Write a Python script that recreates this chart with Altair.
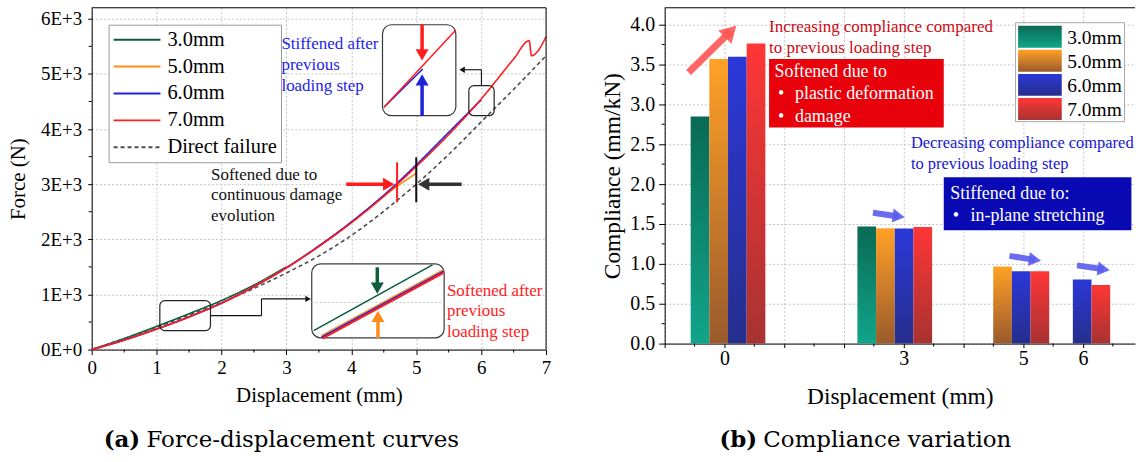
import altair as alt
import pandas as pd

SERIF = "Liberation Serif"
CAP_FONT = "DejaVu Serif"

W_A, H_A = 456, 343
W_B, H_B = 472, 337

# ------------------------------------------------------------------
# (a) Force-displacement curves : values
# ------------------------------------------------------------------
series_a = ["3.0mm", "5.0mm", "6.0mm", "7.0mm", "Direct failure"]
colors_a = ["#0d5c3c", "#ff8c1a", "#1f22dd", "#ff1c1c", "#4d4d4d"]
dash_a = [[1, 0], [1, 0], [1, 0], [1, 0], [4, 3]]

disp_30 = [0, 0.5, 1, 1.5, 2, 2.5, 3]
force_30 = [0, 200, 420, 650, 890, 1170, 1500]
disp_50 = [0, 0.5, 1, 1.5, 2, 2.5, 3, 3.5, 4, 4.5, 5]
force_50 = [0, 175, 375, 597, 846, 1147, 1488, 1878, 2308, 2785, 3200]
disp_60 = [0, 0.5, 1, 1.5, 2, 2.5, 3, 3.5, 4, 4.5, 5, 5.5, 6]
force_60 = [0, 172, 372, 593, 843, 1144, 1485, 1880, 2315, 2800, 3350, 3940, 4530]
disp_70 = [0, 0.5, 1, 1.5, 2, 2.5, 3, 3.5, 4, 4.5, 5, 5.5, 6, 6.5, 6.74, 6.775, 7]
force_70 = [0, 170, 370, 590, 840, 1140, 1480, 1870, 2300, 2780, 3320, 3900, 4544,
            5270, 5602, 5330, 5675]
disp_dir = [0, 0.5, 1, 1.5, 2, 2.5, 3, 3.5, 4, 4.5, 5, 5.5, 6, 6.5, 7]
force_dir = [0, 195, 405, 625, 855, 1110, 1390, 1700, 2070, 2510, 3000, 3540, 4130,
             4720, 5330]

x_ticks_a = [0, 1, 2, 3, 4, 5, 6, 7]
y_ticks_a = [0, 1000, 2000, 3000, 4000, 5000, 6000]
x_minor_a = [0.5, 1.5, 2.5, 3.5, 4.5, 5.5, 6.5]
y_minor_a = [500, 1500, 2500, 3500, 4500, 5500]

# annotation texts (a)
txt_a_x = [2.923, 2.923, 2.923, 1.838, 1.838, 1.838, 5.473, 5.473, 5.473]
txt_a_y = [5542, 5162, 4786, 3173, 2805, 2429, 1070, 694, 326]
txt_a_t = ["Stiffened after", "previous", "loading step",
           "Softened due to", "continuous damage", "evolution",
           "Softened after", "previous", "loading step"]
txt_a_c = ["#2424e6"] * 3 + ["#111111"] * 3 + ["#ff1c1c"] * 3

# zoom insets and the marked regions (a)
inset_x0 = [4.48, 3.39]
inset_x1 = [5.61, 5.43]
inset_y0 = [4242, 212]
inset_y1 = [5892, 1554]
mark_x0 = [1.05, 5.81]
mark_x1 = [1.83, 6.20]
mark_y0 = [344, 4242]
mark_y1 = [888, 4786]

# line segments (a): inset contents, arrow shafts, connectors
seg_x0 = [4.51, 4.50, 5.09, 5.09, 3.42, 3.54, 3.54, 3.55, 4.40, 4.41,
          3.92, 4.705, 5.0, 5.70,
          6.004, 6.004, 1.83, 2.616, 2.616]
seg_y0 = [4406, 4393, 5892, 4242, 344, 253, 223, 198, 1492, 212,
          3000, 2671, 2671, 3000,
          4786, 5076, 616, 616, 919]
seg_x1 = [5.10, 5.61, 5.09, 5.09, 5.25, 5.42, 5.42, 5.42, 4.40, 4.41,
          4.575, 4.705, 5.0, 5.115,
          6.004, 5.70, 2.616, 2.616, 3.34]
seg_y1 = [5089, 5796, 5345, 4891, 1536, 1450, 1420, 1395, 1115, 602,
          3000, 3396, 3486, 3000,
          5076, 5076, 616, 919, 919]
seg_c = ["#1f22dd", "#ff1c1c", "#ff1c1c", "#1f22dd", "#0d5c3c", "#ff8c1a",
         "#1f22dd", "#ff1c1c", "#0d5c3c", "#ff8c1a",
         "#ff1c1c", "#ff1c1c", "#111111", "#333333",
         "#111111", "#111111", "#111111", "#111111", "#111111"]
seg_w = [1.5, 1.5, 3.5, 3.5, 1.6, 1.6, 1.6, 2.2, 3.5, 3.5,
         3.5, 2, 2, 3.5,
         1.1, 1.1, 1.1, 1.1, 1.1]

# arrow heads (a)
head_a_x = [5.09, 5.09, 4.40, 4.41, 4.575, 5.115, 5.706, 3.334]
head_a_y = [5345, 4891, 1115, 602, 3000, 3000, 5076, 919]
head_a_s = ["triangle-down", "triangle-up", "triangle-down", "triangle-up",
            "triangle-right", "triangle-left", "triangle-left", "triangle-right"]
head_a_z = [170, 170, 170, 170, 170, 170, 40, 40]
head_a_c = ["#ff1c1c", "#1f22dd", "#0d5c3c", "#ff8c1a", "#ff1c1c", "#333333",
            "#111111", "#111111"]

# ------------------------------------------------------------------
# (b) Compliance variation
# ------------------------------------------------------------------
series_b = ["3.0mm", "5.0mm", "6.0mm", "7.0mm"]
grad_top = ["#0a6a54", "#ffa126", "#2b37d8", "#ff3636"]
grad_bottom = ["#10a58b", "#9a5a2c", "#262f8c", "#a83232"]
disp_b = [0, 3, 5, 6]
group_center_b = [0.06, 2.85, 4.81, 5.83]
comp_30 = [2.846, 1.467, None, None]
comp_50 = [3.567, 1.446, 0.967, None]
comp_60 = [3.596, 1.442, 0.908, 0.804]
comp_70 = [3.763, 1.462, 0.908, 0.733]
BAR_W = 0.3125

x_ticks_b = [-1, 0, 1, 2, 3, 4, 5, 6]
y_ticks_b = [0, 0.5, 1.0, 1.5, 2.0, 2.5, 3.0, 3.5, 4.0]
x_minor_b = [-0.5, 0.5, 1.5, 2.5, 3.5, 4.5, 5.5, 6.5]
y_minor_b = [0.25, 0.75, 1.25, 1.75, 2.25, 2.75, 3.25, 3.75]

# boxes (b)
box_b_x0 = [0.747, 3.67]
box_b_x1 = [3.67, 6.81]
box_b_y0 = [2.709, 1.421]
box_b_y1 = [3.5675, 2.084]
box_b_c = ["#e8000a", "#0a0ab4"]

# texts (b)
txt_b_x = [0.747, 0.747, 0.838, 0.897, 1.18, 0.897, 1.18,
           3.12, 3.12, 3.78, 3.82, 4.117]
txt_b_y = [3.97, 3.71, 3.41, 3.125, 3.125, 2.846, 2.846,
           2.5125, 2.255, 1.88, 1.596, 1.596]
txt_b_t = ["Increasing compliance compared", "to previous loading step",
           "Softened due to", "\u2022", "plastic deformation", "\u2022", "damage",
           "Decreasing compliance compared", "to previous loading step",
           "Stiffened due to:", "\u2022", "in-plane stretching"]
txt_b_c = ["#cc0a14", "#cc0a14", "white", "white", "white", "white", "white",
           "#1818d0", "#1818d0", "white", "white", "white"]
txt_b_fs = [17, 17, 18, 18, 18, 18, 18, 16.5, 16.5, 18, 18, 18]

# arrows (b)
shaft_b_x0 = [-0.6, 2.485, 4.77, 5.9]
shaft_b_y0 = [3.4, 1.64, 1.10, 0.98]
shaft_b_x1 = [0.103, 2.916, 5.196, 6.346]
shaft_b_y1 = [3.9145, 1.594, 1.049, 0.931]
shaft_b_c = ["#ff5454", "#5b5bf0", "#5b5bf0", "#5b5bf0"]
shaft_b_w = [7, 6, 6, 6]
head_b_s = ["triangle-up", "triangle-right", "triangle-right", "triangle-right"]
head_b_a = [45, 8, 8, 8]
head_b_z = [350, 200, 200, 200]

# ------------------------------------------------------------------
# helpers
# ------------------------------------------------------------------
def grad(top, bottom):
    return alt.Gradient(gradient="linear",
                        stops=[alt.GradientStop(color=top, offset=0),
                               alt.GradientStop(color=bottom, offset=1)],
                        x1=0, x2=0, y1=0, y2=1)


grid_kw = dict(grid=True, gridColor="#c4c4c4", gridDash=[2, 2], gridWidth=1)
common_ax = dict(labelFont=SERIF, labelColor="black", titleFont=SERIF,
                 titleFontWeight="normal", titleColor="black", tickColor="black",
                 domainColor="black", labelFlush=False, labelOverlap=False)

xs_a = alt.Scale(domain=[0, 7], nice=False, zero=False)
ys_a = alt.Scale(domain=[0, 6200], nice=False)
ax_x_a = alt.Axis(values=x_ticks_a, format="d", title="Displacement (mm)",
                  labelFontSize=19, labelPadding=4, titleFontSize=21, titlePadding=7,
                  tickSize=5, **grid_kw, **common_ax)
ax_y_a = alt.Axis(values=y_ticks_a, title="Force (N)",
                  labelExpr="datum.value == 0 ? '0E+0' : format(datum.value / 1000, 'd') + 'E+3'",
                  labelFontSize=19, labelPadding=6, titleFontSize=21, titlePadding=12,
                  tickSize=4, **grid_kw, **common_ax)


def XA(f):
    return alt.X(f, type="quantitative", scale=xs_a, axis=ax_x_a)


def YA(f):
    return alt.Y(f, type="quantitative", scale=ys_a, axis=ax_y_a)


one = pd.DataFrame({"k": [0]})

# ---------------- panel (a) ----------------
rows = []
for name, xs, ys in [("Direct failure", disp_dir, force_dir), ("3.0mm", disp_30, force_30),
                     ("5.0mm", disp_50, force_50), ("6.0mm", disp_60, force_60),
                     ("7.0mm", disp_70, force_70)]:
    for k, (d, f) in enumerate(zip(xs, ys)):
        rows.append({"series": name, "d": d, "f": f, "k": k})
lines_df = pd.DataFrame(rows)

leg_a = alt.Legend(title=None, orient="none", legendX=17, legendY=17,
                   symbolType="M-1,0H3.7", symbolSize=400, symbolStrokeWidth=2,
                   labelFont=SERIF, labelFontSize=20.5, labelColor="black",
                   labelOffset=33, rowPadding=5, padding=4, strokeColor="#9a9a9a",
                   fillColor="white", labelLimit=400)

lines = alt.Chart(lines_df).mark_line(strokeWidth=1.6, interpolate="monotone").encode(
    x=XA("d"), y=YA("f"),
    color=alt.Color("series:N", scale=alt.Scale(domain=series_a, range=colors_a), legend=leg_a),
    strokeDash=alt.StrokeDash("series:N", scale=alt.Scale(domain=series_a, range=dash_a),
                              legend=leg_a),
    order=alt.Order("k:Q"),
)

minor_x_a = alt.Chart(pd.DataFrame({"v": x_minor_a})).mark_rule(color="black").encode(
    x=XA("v"), y=alt.value(H_A), y2=alt.value(H_A + 3))
minor_y_a = alt.Chart(pd.DataFrame({"v": y_minor_a})).mark_rule(color="black").encode(
    y=YA("v"), x=alt.value(0), x2=alt.value(-3))
border_top_a = alt.Chart(one).mark_rule(color="black").encode(
    x=alt.value(0), x2=alt.value(W_A), y=alt.value(0))
border_right_a = alt.Chart(one).mark_rule(color="black").encode(
    x=alt.value(W_A), y=alt.value(0), y2=alt.value(H_A))

insets_a = alt.Chart(pd.DataFrame({"x0": inset_x0, "x1": inset_x1, "y0": inset_y0, "y1": inset_y1})
                     ).mark_rect(cornerRadius=9, fill="white", stroke="#3a3a3a", strokeWidth=1.2
                                 ).encode(x=XA("x0"), x2="x1", y=YA("y0"), y2="y1")
inner_grid_a = alt.Chart(one).mark_rule(color="#c4c4c4", strokeDash=[2, 2]).encode(
    x=alt.XDatum(3.39, scale=xs_a), x2=alt.X2Datum(5.43), y=alt.YDatum(852, scale=ys_a))
marks_a = alt.Chart(pd.DataFrame({"x0": mark_x0, "x1": mark_x1, "y0": mark_y0, "y1": mark_y1})
                    ).mark_rect(cornerRadius=5, fill="transparent", stroke="#222222", strokeWidth=1.2
                                ).encode(x=XA("x0"), x2="x1", y=YA("y0"), y2="y1")

segs_a = alt.Chart(pd.DataFrame({"x0": seg_x0, "y0": seg_y0, "x1": seg_x1, "y1": seg_y1,
                                 "c": seg_c, "w": seg_w})).mark_rule(strokeCap="butt").encode(
    x=XA("x0"), y=YA("y0"), x2="x1", y2="y1",
    stroke=alt.Stroke("c:N", scale=None), strokeWidth=alt.StrokeWidth("w:Q", scale=None))

heads_a = alt.Chart(pd.DataFrame({"x": head_a_x, "y": head_a_y, "s": head_a_s, "z": head_a_z,
                                  "c": head_a_c})).mark_point(filled=True, opacity=1, strokeWidth=0).encode(
    x=XA("x"), y=YA("y"), shape=alt.Shape("s:N", scale=None), size=alt.Size("z:Q", scale=None),
    fill=alt.Fill("c:N", scale=None))

texts_a = alt.Chart(pd.DataFrame({"x": txt_a_x, "y": txt_a_y, "t": txt_a_t, "c": txt_a_c})
                    ).mark_text(align="left", baseline="middle", font=SERIF, fontSize=17).encode(
    x=XA("x"), y=YA("y"), text="t:N", fill=alt.Fill("c:N", scale=None))

cap_a1 = alt.Chart(one).mark_text(text="(a)", font=CAP_FONT, fontSize=23, fontWeight="bold",
                                  align="left", baseline="middle", color="black").encode(
    x=alt.value(12), y=alt.value(434))
cap_a2 = alt.Chart(one).mark_text(text="Force-displacement curves", font=CAP_FONT, fontSize=23,
                                  align="left", baseline="middle", color="black").encode(
    x=alt.value(55), y=alt.value(434))

panel_a = alt.layer(
    lines, minor_x_a, minor_y_a, border_top_a, border_right_a, insets_a, inner_grid_a,
    marks_a, segs_a, heads_a, texts_a, cap_a1, cap_a2
).properties(width=W_A, height=H_A)

# ---------------- panel (b) ----------------
xs_b = alt.Scale(domain=[-1, 6.87], nice=False, zero=False)
ys_b = alt.Scale(domain=[0, 4.21], nice=False)
ax_x_b = alt.Axis(values=x_ticks_b, format="d",
                  labelExpr="indexof([0, 3, 5, 6], datum.value) >= 0 ? datum.label : ''",
                  title="Displacement (mm)", labelFontSize=20, labelPadding=1,
                  titleFontSize=23.5, titlePadding=16, tickSize=4, **grid_kw, **common_ax)
ax_y_b = alt.Axis(values=y_ticks_b, format=".1f", title="Compliance (mm/kN)",
                  labelFontSize=20, labelPadding=4, titleFontSize=23.5, titlePadding=5,
                  tickSize=6, **grid_kw, **common_ax)


def XB(f):
    return alt.X(f, type="quantitative", scale=xs_b, axis=ax_x_b)


def YB(f):
    return alt.Y(f, type="quantitative", scale=ys_b, axis=ax_y_b)


brow = []
for i, (s, vals) in enumerate(zip(series_b, [comp_30, comp_50, comp_60, comp_70])):
    for j, v in enumerate(vals):
        if v is not None:
            brow.append({"series": s, "i": i, "disp": disp_b[j], "gx": group_center_b[j], "c": v})
bars_df = pd.DataFrame(brow)

bar_layers = []
for i, s in enumerate(series_b):
    bar_layers.append(
        alt.Chart(bars_df).transform_filter(alt.datum.series == s).transform_calculate(
            bx0=f"datum.gx - 2 * {BAR_W} + datum.i * {BAR_W}",
            bx1=f"datum.gx - 2 * {BAR_W} + (datum.i + 1) * {BAR_W}",
            base="0",
        ).mark_bar(color=grad(grad_top[i], grad_bottom[i])).encode(
            x=XB("bx0"), x2="bx1", y=YB("c"), y2="base:Q")
    )

minor_x_b = alt.Chart(pd.DataFrame({"v": x_minor_b})).mark_rule(color="black").encode(
    x=XB("v"), y=alt.value(H_B), y2=alt.value(H_B + 3))
minor_y_b = alt.Chart(pd.DataFrame({"v": y_minor_b})).mark_rule(color="black").encode(
    y=YB("v"), x=alt.value(0), x2=alt.value(-3))
border_top_b = alt.Chart(one).mark_rule(color="black").encode(
    x=alt.value(0), x2=alt.value(W_B), y=alt.value(0))

boxes_b = alt.Chart(pd.DataFrame({"x0": box_b_x0, "x1": box_b_x1, "y0": box_b_y0,
                                  "y1": box_b_y1, "c": box_b_c})).mark_rect().encode(
    x=XB("x0"), x2="x1", y=YB("y0"), y2="y1", fill=alt.Fill("c:N", scale=None))

texts_b = alt.Chart(pd.DataFrame({"x": txt_b_x, "y": txt_b_y, "t": txt_b_t, "c": txt_b_c,
                                  "fs": txt_b_fs})).mark_text(align="left", baseline="middle",
                                                             font=SERIF, clip=True).encode(
    x=XB("x"), y=YB("y"), text="t:N", fill=alt.Fill("c:N", scale=None),
    size=alt.Size("fs:Q", scale=None))

shafts_b = alt.Chart(pd.DataFrame({"x0": shaft_b_x0, "y0": shaft_b_y0, "x1": shaft_b_x1,
                                   "y1": shaft_b_y1, "c": shaft_b_c, "w": shaft_b_w})
                     ).mark_rule(strokeCap="butt", opacity=0.9).encode(
    x=XB("x0"), y=YB("y0"), x2="x1", y2="y1",
    stroke=alt.Stroke("c:N", scale=None), strokeWidth=alt.StrokeWidth("w:Q", scale=None))
heads_b = alt.Chart(pd.DataFrame({"x": shaft_b_x1, "y": shaft_b_y1, "s": head_b_s, "a": head_b_a,
                                  "z": head_b_z, "c": shaft_b_c})
                    ).mark_point(filled=True, opacity=0.9, strokeWidth=0).encode(
    x=XB("x"), y=YB("y"), shape=alt.Shape("s:N", scale=None), size=alt.Size("z:Q", scale=None),
    angle=alt.Angle("a:Q", scale=None), fill=alt.Fill("c:N", scale=None))

# legend (b) drawn with gradient swatches
leg_b = [alt.Chart(one).mark_rect(fill="white", stroke="#a8a8a8", strokeWidth=1).encode(
    x=alt.value(352), x2=alt.value(461.5), y=alt.value(15), y2=alt.value(114.3))]
for i, s in enumerate(series_b):
    cy = 29 + i * 24.2
    leg_b.append(alt.Chart(one).mark_rect(color=grad(grad_top[i], grad_bottom[i])).encode(
        x=alt.value(354.7), x2=alt.value(398.5), y=alt.value(cy - 11), y2=alt.value(cy + 11)))
    leg_b.append(alt.Chart(one).mark_text(text=s, font=SERIF, fontSize=19.5, align="left",
                                          baseline="middle", color="black").encode(
        x=alt.value(404), y=alt.value(cy + 1)))

cap_b1 = alt.Chart(one).mark_text(text="(b)", font=CAP_FONT, fontSize=23, fontWeight="bold",
                                  align="left", baseline="middle", color="black").encode(
    x=alt.value(55), y=alt.value(434))
cap_b2 = alt.Chart(one).mark_text(text="Compliance variation", font=CAP_FONT, fontSize=23,
                                  align="left", baseline="middle", color="black").encode(
    x=alt.value(99), y=alt.value(434))

panel_b = alt.layer(
    *bar_layers, minor_x_b, minor_y_b, border_top_b, boxes_b, texts_b, shafts_b, heads_b,
    *leg_b, cap_b1, cap_b2
).properties(width=W_B, height=H_B)

chart = alt.hconcat(panel_a, panel_b, spacing=50).properties(
    padding={"left": 7, "top": 6, "right": 0, "bottom": 0},
    background="white",
).configure_view(strokeWidth=0)

chart.save("out.html", embed_options={"renderer": "svg", "actions": False})
